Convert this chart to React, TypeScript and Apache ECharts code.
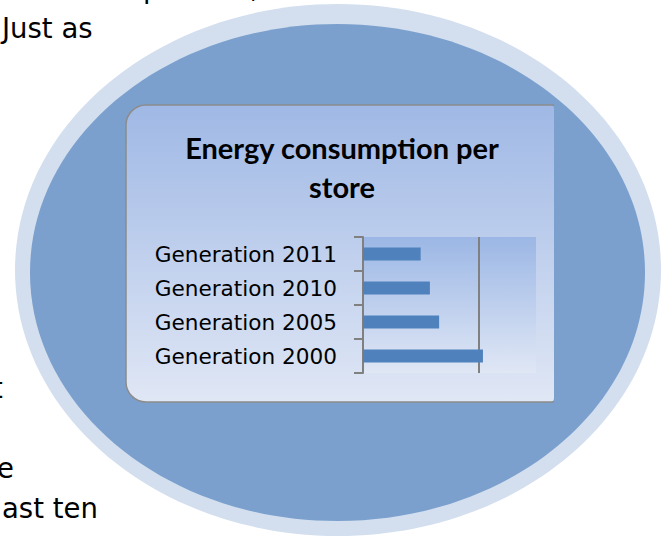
import React, { useEffect, useRef } from "react";
import * as echarts from "echarts";

const categories = ["Generation 2011", "Generation 2010", "Generation 2005", "Generation 2000"];
const values = [50, 58, 66, 104];
const titleLines = ["Energy consumption per", "store"];
const bodyFragments = [
  { text: "Just as", left: 2, cy: 27.5 },
  { text: "t", left: -8, cy: 387.5 },
  { text: "e", left: -3, cy: 467.5 },
  { text: "ast ten", left: 2, cy: 507.5 },
];
const topFragments = [
  { text: "p", left: 143, cy: -12 },
  { text: ",", left: 250, cy: -12 },
];

echarts.graphic.registerShape(
  "boxBorder",
  echarts.graphic.extendPath(
    "M 554 105 L 146 105 A 20 20 0 0 0 126 125 L 126 382 A 20 20 0 0 0 146 402 L 554 402",
    {}
  )
);

export default function App() {
  const ref = useRef<HTMLDivElement>(null);
  useEffect(() => {
    if (!ref.current) return;
    const chart = echarts.init(ref.current, undefined, { renderer: "svg" });
    const bodyFont = "'DejaVu Sans', Verdana, sans-serif";
    const graphics: any[] = [];
    [...bodyFragments, ...topFragments].forEach((f) =>
      graphics.push({
        type: "text",
        z: -20,
        x: f.left,
        y: f.cy,
        style: { text: f.text, align: "left", verticalAlign: "middle", fontFamily: bodyFont, fontSize: 27.5, fill: "#000" },
      })
    );
    graphics.push({
      type: "ellipse",
      z: -19,
      shape: { cx: 338, cy: 270, rx: 323, ry: 266 },
      style: { fill: "#d3dfef" },
    });
    graphics.push({
      type: "ellipse",
      z: -18,
      shape: { cx: 337.5, cy: 272.5, rx: 307.5, ry: 248.5 },
      style: { fill: "#7ba0cd" },
    });
    graphics.push({
      type: "rect",
      z: -17,
      shape: { x: 126, y: 105, width: 428, height: 297, r: [20, 4, 4, 20] },
      style: {
        fill: {
          type: "linear",
          x: 0,
          y: 0,
          x2: 0,
          y2: 1,
          colorStops: [
            { offset: 0, color: "#9fb8e5" },
            { offset: 1, color: "#e0e7f5" },
          ],
        },
      },
    });
    graphics.push({
      type: "boxBorder",
      z: -16,
      x: 0,
      y: 0,
      style: { fill: "none", stroke: "#8c8c8c", lineWidth: 1.5 },
    });
    graphics.push({
      type: "text",
      z: 10,
      x: 342,
      y: 167,
      style: {
        text: titleLines.join("\n"),
        align: "center",
        verticalAlign: "middle",
        fontFamily: "Lato, 'Liberation Sans', sans-serif",
        fontWeight: "bold",
        fontSize: 29,
        lineHeight: 39,
        fill: "#000",
      },
    });

    chart.setOption({
      animation: false,
      graphic: { elements: graphics },
      grid: {
        left: 363,
        top: 237,
        width: 173,
        height: 136,
        show: true,
        borderWidth: 0,
        backgroundColor: {
          type: "linear",
          x: 0,
          y: 0,
          x2: 0,
          y2: 1,
          colorStops: [
            { offset: 0, color: "#9cb7e5" },
            { offset: 1, color: "#e0e7f5" },
          ],
        },
      },
      xAxis: {
        type: "value",
        min: 0,
        max: 150,
        interval: 100,
        axisLabel: { show: false },
        axisLine: { show: false },
        axisTick: { show: false },
        splitLine: {
          show: true,
          showMinLine: false,
          showMaxLine: false,
          lineStyle: { color: "#808080", width: 2 },
        },
      },
      yAxis: {
        type: "category",
        data: categories,
        inverse: true,
        axisLine: { show: true, lineStyle: { color: "#808080", width: 2 } },
        axisTick: { show: true, length: 9, lineStyle: { color: "#808080", width: 2 } },
        axisLabel: {
          margin: 26,
          fontSize: 21.6,
          fontFamily: bodyFont,
          color: "#000",
        },
      },
      series: [
        {
          type: "bar",
          data: values,
          barWidth: 13,
          itemStyle: { color: "#4f81bd" },
        },
      ],
    });
    return () => chart.dispose();
  }, []);
  return <div ref={ref} style={{ position: "absolute", left: 0, top: 0, width: 661, height: 536 }} />;
}
